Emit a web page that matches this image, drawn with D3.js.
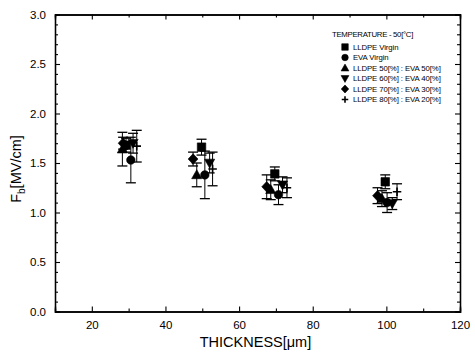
<!DOCTYPE html>
<html>
<head>
<meta charset="utf-8">
<script src="https://cdn.jsdelivr.net/npm/d3@7/dist/d3.min.js"></script>
<style>
  body { margin: 0; background: #fff; }
  svg { font-family: Arial, "Liberation Sans", sans-serif; }
</style>
</head>
<body>
<div id="chart"></div>
<script>
"use strict";

// series names (legend order)
var seriesNames = [
  "LLDPE Virgin",
  "EVA Virgin",
  "LLDPE 50[%] : EVA 50[%]",
  "LLDPE 60[%] : EVA 40[%]",
  "LLDPE 70[%] : EVA 30[%]",
  "LLDPE 80[%] : EVA 20[%]"
];
var legendTitle = "TEMPERATURE - 50[\u00B0C]";

// thickness [um] of each point, per series
var xLLDPE = [29.3, 49.8, 69.7, 99.7];
var xEVA   = [30.6, 50.7, 70.7, 100.2];
var x5050  = [28.3, 48.5, 68.6, 98.8];
var x6040  = [31.2, 52.0, 71.8, 101.6];
var x7030  = [28.5, 47.5, 67.5, 97.6];
var x8020  = [32.2, 52.8, 73.0, 102.9];

// breakdown strength Fb [MV/cm]
var yLLDPE = [1.68, 1.66, 1.39, 1.31];
var yEVA   = [1.53, 1.38, 1.18, 1.10];
var y5050  = [1.64, 1.38, 1.23, 1.14];
var y6040  = [1.70, 1.50, 1.28, 1.09];
var y7030  = [1.70, 1.54, 1.26, 1.17];
var y8020  = [1.67, 1.44, 1.25, 1.21];

// error (+/-)
var eLLDPE = [0.07, 0.08, 0.07, 0.07];
var eEVA   = [0.23, 0.24, 0.10, 0.10];
var e5050  = [0.17, 0.12, 0.10, 0.08];
var e6040  = [0.10, 0.10, 0.08, 0.06];
var e7030  = [0.06, 0.07, 0.12, 0.08];
var e8020  = [0.16, 0.17, 0.10, 0.08];

var xTicks = [20, 40, 60, 80, 100, 120];
var yTicks = [0.0, 0.5, 1.0, 1.5, 2.0, 2.5, 3.0];

var symbols = ["square", "circle", "up", "down", "diamond", "plus"];

(function () {
  var series = [
    [xLLDPE, yLLDPE, eLLDPE],
    [xEVA, yEVA, eEVA],
    [x5050, y5050, e5050],
    [x6040, y6040, e6040],
    [x7030, y7030, e7030],
    [x8020, y8020, e8020]
  ].map(function (s, i) {
    return {
      name: seriesNames[i],
      symbol: symbols[i],
      points: s[0].map(function (x, j) { return { x: x, y: s[1][j], e: s[2][j] }; })
    };
  });

  var W = 475, H = 355;
  var margin = { left: 55, right: 15, top: 14.5, bottom: 43.5 };

  var svg = d3.select("#chart").append("svg").attr("width", W).attr("height", H);

  var x = d3.scaleLinear().domain([10, 120]).range([margin.left, W - margin.right]);
  var y = d3.scaleLinear().domain([0, 3]).range([H - margin.bottom, margin.top]);

  var pLeft = x.range()[0], pRight = x.range()[1];
  var pTop = y.range()[1], pBottom = y.range()[0];

  function markerPath(type, s) {
    if (type === "square") return d3.symbol(d3.symbolSquare, s * s)();
    if (type === "circle") return d3.symbol(d3.symbolCircle, Math.PI * s * s / 4)();
    if (type === "diamond") {
      var a = s * 0.58, b = s * 0.62;
      return "M0," + (-b) + "L" + a + ",0L0," + b + "L" + (-a) + ",0Z";
    }
    if (type === "up") {
      return "M0," + (-s * 0.6) + "L" + (s * 0.6) + "," + (s * 0.45) + "L" + (-s * 0.6) + "," + (s * 0.45) + "Z";
    }
    if (type === "down") {
      return "M0," + (s * 0.6) + "L" + (s * 0.6) + "," + (-s * 0.45) + "L" + (-s * 0.6) + "," + (-s * 0.45) + "Z";
    }
    // plus sign
    var h = s * 0.5;
    return "M" + (-h) + ",0L" + h + ",0M0," + (-h) + "L0," + h;
  }

  function drawMarker(g, type, size) {
    var p = g.append("path").attr("d", markerPath(type, size));
    if (type === "plus") p.attr("fill", "none").attr("stroke", "#000").attr("stroke-width", 1.6);
    else p.attr("fill", "#000").attr("stroke", "#000").attr("stroke-width", 0.6).attr("stroke-linejoin", "round");
  }

  // axes (ticks inward)
  var xAxisB = d3.axisBottom(x).tickValues(xTicks).tickSize(-5).tickPadding(9)
    .tickFormat(d3.format("d"));
  var xAxisT = d3.axisTop(x).tickValues(xTicks).tickSize(-5).tickFormat("");
  var yAxisL = d3.axisLeft(y).tickValues(yTicks).tickSize(-5).tickPadding(9)
    .tickFormat(d3.format(".1f"));
  var yAxisR = d3.axisRight(y).tickValues(yTicks).tickSize(-5).tickFormat("");

  var minorX = d3.range(10, 121, 10).filter(function (v) { return v % 20 !== 0; });
  var minorY = d3.range(0, 31).map(function (v) { return v / 10; })
    .filter(function (v) { return Math.round(v * 10) % 5 !== 0; });

  svg.append("g").attr("transform", "translate(0," + pBottom + ")").call(xAxisB);
  svg.append("g").attr("transform", "translate(0," + pTop + ")").call(xAxisT);
  svg.append("g").attr("transform", "translate(" + pLeft + ",0)").call(yAxisL);
  svg.append("g").attr("transform", "translate(" + pRight + ",0)").call(yAxisR);

  svg.append("g").attr("transform", "translate(0," + pBottom + ")")
    .call(d3.axisBottom(x).tickValues(minorX).tickSize(-3).tickFormat(""));
  svg.append("g").attr("transform", "translate(0," + pTop + ")")
    .call(d3.axisTop(x).tickValues(minorX).tickSize(-3).tickFormat(""));
  svg.append("g").attr("transform", "translate(" + pLeft + ",0)")
    .call(d3.axisLeft(y).tickValues(minorY).tickSize(-3).tickFormat(""));
  svg.append("g").attr("transform", "translate(" + pRight + ",0)")
    .call(d3.axisRight(y).tickValues(minorY).tickSize(-3).tickFormat(""));

  svg.selectAll(".domain").attr("stroke", "#000").attr("stroke-width", 1.3);
  svg.selectAll(".tick line").attr("stroke", "#000").attr("stroke-width", 1.1);
  svg.selectAll(".tick text").attr("font-size", 11.5).attr("fill", "#000");

  // axis titles
  svg.append("text")
    .attr("x", (pLeft + pRight) / 2 - 2).attr("y", 347)
    .attr("text-anchor", "middle").attr("font-size", 14.5)
    .text("THICKNESS[\u03BCm]");

  var yt = svg.append("text")
    .attr("transform", "translate(21," + ((pTop + pBottom) / 2 + 6) + ") rotate(-90)")
    .attr("text-anchor", "middle").attr("font-size", 14.5);
  yt.append("tspan").text("F");
  yt.append("tspan").attr("font-size", 10).attr("dy", 4).text("b");
  yt.append("tspan").attr("dy", -4).text("[MV/cm]");

  // error bars + markers
  var cap = 5;
  series.forEach(function (s) {
    var g = svg.append("g");
    s.points.forEach(function (p) {
      var px = x(p.x), y1 = y(p.y + p.e), y2 = y(p.y - p.e);
      g.append("line").attr("x1", px).attr("x2", px).attr("y1", y1).attr("y2", y2)
        .attr("stroke", "#000").attr("stroke-width", 1);
      [y1, y2].forEach(function (yy) {
        g.append("line").attr("x1", px - cap).attr("x2", px + cap).attr("y1", yy).attr("y2", yy)
          .attr("stroke", "#000").attr("stroke-width", 1.3);
      });
    });
    s.points.forEach(function (p) {
      var m = g.append("g").attr("transform", "translate(" + x(p.x) + "," + y(p.y) + ")");
      drawMarker(m, s.symbol, 8.5);
    });
  });

  // legend
  var lg = svg.append("g").attr("font-size", 7.8)
    .attr("font-family", "'Liberation Sans Narrow', Arial, sans-serif");
  lg.append("text").attr("x", 332).attr("y", 37).attr("letter-spacing", -0.3).text(legendTitle);
  series.forEach(function (s, i) {
    var yy = 47 + i * 10.5;
    var m = lg.append("g").attr("transform", "translate(345," + yy + ")");
    drawMarker(m, s.symbol, 6.5);
    lg.append("text").attr("x", 353).attr("y", yy + 2.7).attr("letter-spacing", -0.1).text(s.name);
  });
})();
</script>
</body>
</html>
